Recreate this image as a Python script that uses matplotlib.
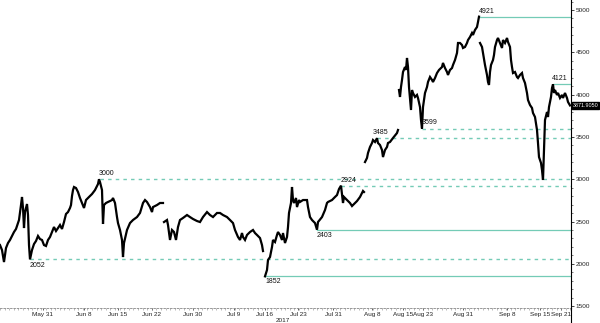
import numpy as np
import matplotlib
matplotlib.use("Agg")
import matplotlib.pyplot as plt
from matplotlib.ticker import MultipleLocator
from matplotlib.lines import Line2D

# ---- data (time index along the compressed axis, price in USD) ----
t_a = [0, 2, 4, 6, 8, 10, 12, 14, 16, 17, 19, 21, 22, 23, 24, 25, 27, 28, 29, 30, 32, 34, 36, 38, 40,
       42, 44, 46, 48, 50, 52, 54, 56, 58, 60, 62, 64, 66, 68, 70, 71, 72, 73, 74, 76, 78, 80, 82, 84,
       86, 89, 92, 95, 98, 99, 100, 102, 103, 104, 106, 108, 110, 112, 113, 115, 117, 118, 120, 122,
       123, 124, 127, 130, 133, 137, 140, 143, 145, 147, 150, 152, 153, 157, 160, 163]
p_a = [2222, 2163, 2021, 2187, 2246, 2282, 2329, 2376, 2412, 2447, 2518, 2695, 2790, 2660, 2423, 2612,
       2707, 2577, 2222, 2052, 2163, 2234, 2270, 2329, 2293, 2282, 2222, 2211, 2282, 2317, 2376, 2435,
       2388, 2423, 2459, 2412, 2494, 2589, 2612, 2660, 2695, 2801, 2872, 2908, 2896, 2849, 2778, 2719,
       2660, 2754, 2790, 2825, 2872, 2943, 3000, 2967, 2872, 2471, 2695, 2719, 2731, 2742, 2754, 2778,
       2719, 2553, 2482, 2400, 2282, 2080, 2246, 2400, 2482, 2518, 2553, 2601, 2719, 2754, 2731, 2671,
       2612, 2671, 2695, 2719, 2719]

t_b = [164, 167, 168, 170, 172, 174, 176, 178, 180, 183, 187, 190, 193, 197, 200, 203, 207, 210, 213,
       217, 220, 223, 227, 230, 233, 235, 238, 240, 242, 243, 245, 247, 250, 253, 255, 257, 260, 262, 263]
p_b = [2494, 2518, 2459, 2282, 2400, 2376, 2282, 2435, 2518, 2542, 2577, 2553, 2530, 2506, 2494, 2553,
       2612, 2577, 2553, 2601, 2601, 2577, 2553, 2518, 2482, 2400, 2317, 2282, 2364, 2317, 2282, 2341,
       2376, 2400, 2364, 2341, 2305, 2222, 2151]

t_c = [265, 267, 268, 270, 272, 273, 275, 277, 278, 280, 282, 283, 285, 287, 288, 289, 291, 292, 293,
       294, 296, 297, 299, 300, 303, 307, 308, 310, 312, 315, 317, 318, 322, 325, 327, 328, 332, 335,
       337, 339, 341, 343, 344, 347, 350, 352, 353, 357, 360, 363, 364]
p_c = [1852, 1927, 2045, 2080, 2199, 2282, 2258, 2341, 2376, 2341, 2282, 2364, 2246, 2317, 2435, 2601,
       2719, 2908, 2754, 2719, 2778, 2671, 2754, 2731, 2754, 2754, 2671, 2553, 2518, 2482, 2403, 2494,
       2553, 2636, 2719, 2731, 2754, 2790, 2813, 2884, 2924, 2719, 2790, 2754, 2719, 2683, 2695, 2742,
       2790, 2861, 2849]

t_d = [365, 367, 368, 370, 372, 373, 375, 377, 378, 380, 382, 383, 385, 387, 388, 390, 393, 397, 398]
p_d = [3203, 3251, 3310, 3381, 3428, 3463, 3440, 3485, 3428, 3404, 3345, 3262, 3345, 3381, 3428, 3440,
       3487, 3546, 3582]

t_e = [399, 400, 401, 402, 403, 405, 406, 407, 408, 409, 411, 412, 413, 415, 417, 418, 420, 421, 422,
       423, 425, 427, 428, 430, 432, 433, 435, 437, 439, 442, 443, 445, 447, 448, 450, 452, 453, 455,
       457, 458, 460, 462, 463, 465, 467, 468, 470, 472, 473, 475, 477, 478, 479]
p_e = [4054, 3972, 4090, 4173, 4267, 4326, 4291, 4433, 4326, 4090, 3818, 4054, 4019, 3972, 3996, 3960,
       3853, 3700, 3599, 3853, 4019, 4090, 4149, 4208, 4173, 4149, 4196, 4255, 4291, 4326, 4374, 4314,
       4267, 4232, 4291, 4314, 4350, 4409, 4492, 4610, 4610, 4586, 4551, 4563, 4610, 4645, 4681, 4728,
       4705, 4764, 4799, 4858, 4921]

t_f = [480, 482, 483, 485, 487, 488, 489, 490, 491, 493, 494, 495, 497, 498, 500, 502, 503, 505, 507,
       508, 510, 511, 512, 513, 515, 517, 518, 520, 522, 523, 525, 527, 528, 530, 532, 533, 535, 537,
       538, 539, 541, 542, 543, 544, 545, 547, 548, 549, 551, 552, 553, 554, 555, 557, 558, 560, 562,
       563, 565, 567, 568, 570]
p_f = [4610, 4563, 4492, 4350, 4232, 4149, 4114, 4267, 4350, 4409, 4468, 4563, 4645, 4669, 4610, 4551,
       4645, 4610, 4669, 4622, 4563, 4409, 4326, 4255, 4267, 4208, 4196, 4232, 4255, 4196, 4137, 4019,
       3936, 3877, 3842, 3783, 3735, 3582, 3428, 3262, 3192, 3109, 2991, 3345, 3700, 3794, 3735, 3853,
       3972, 4078, 4121, 4019, 4054, 3996, 4019, 3960, 3996, 3960, 4019, 3960, 3913, 3872]

segments_t = [t_a, t_b, t_c, t_d, t_e, t_f]
segments_p = [p_a, p_b, p_c, p_d, p_e, p_f]

level_values = [2052, 3000, 2924, 3485, 3599, 1852, 2403, 4921, 4121]
level_start = [30, 100, 341, 377, 422, 265, 317, 479, 553]
level_dashed = [True, True, True, True, True, False, False, False, False]

last_price = 3871.9050

tick_pos = [43, 84, 118, 152, 193, 234, 265, 298, 333, 372, 403, 423, 463, 507, 540, 561]
tick_labels = ["May 31", "Jun 8", "Jun 15", "Jun 22", "Jun 30", "Jul 9", "Jul 16", "Jul 23",
               "Jul 31", "Aug 8", "Aug 15", "Aug 23", "Aug 31", "Sep 8", "Sep 15", "Sep 21"]
y_ticks = [1500, 2000, 2500, 3000, 3500, 4000, 4500, 5000]

# ---- figure ----
plt.rcParams['font.family'] = ['Liberation Sans', 'DejaVu Sans']
W, H = 600, 323
fig = plt.figure(figsize=(W / 100, H / 100), dpi=100)
ax = fig.add_axes([0, 1 - 308 / H, 571 / W, 308 / H])

teal = '#74cbb6'
xmax = 571
for v, s, d in zip(level_values, level_start, level_dashed):
    if d:
        ax.plot([s, xmax], [v, v], color=teal, lw=1.0, ls=(0, (2.5, 3)), zorder=1)
    else:
        ax.plot([s, xmax], [v, v], color=teal, lw=0.9, ls='-', zorder=1)

for tt, pp in zip(segments_t, segments_p):
    ax.plot(tt, pp, color='black', lw=1.6, zorder=3, solid_joinstyle='miter')

fs = 4.6
# level annotations
ann = [(30, 2052, 'top'), (99, 3000, 'bottom'), (265, 1852, 'top'), (317, 2403, 'top'),
       (341, 2924, 'bottom'), (373, 3485, 'bottom'), (422, 3599, 'bottom'),
       (479, 4921, 'bottom'), (552, 4121, 'bottom')]
for x, v, va in ann:
    off = -25 if va == 'top' else 25
    ax.text(x, v + off, f"{v}", fontsize=fs + 0.4, ha='left', va=va, color='#111111', zorder=4)

ax.set_xlim(0, xmax)
ax.set_ylim(1478, 5118)

for sp in ['left', 'top']:
    ax.spines[sp].set_visible(False)
ax.spines['right'].set_color('black')
ax.spines['right'].set_linewidth(0.8)
ax.spines['bottom'].set_color('#888888')
ax.spines['bottom'].set_linewidth(0.6)
ax.spines['bottom'].set_linestyle((0, (2, 2)))

ax.yaxis.tick_right()
ax.set_yticks(y_ticks)
ax.set_yticklabels([str(v) for v in y_ticks])
ax.yaxis.set_minor_locator(MultipleLocator(100))
ax.tick_params(axis='y', which='major', length=2.5, width=0.6, labelsize=fs, pad=1, colors='#222222')
ax.tick_params(axis='y', which='minor', length=1.3, width=0.5, colors='#444444')

ax.set_xticks(tick_pos)
ax.set_xticklabels(tick_labels)
ax.xaxis.set_minor_locator(MultipleLocator(4.6))
ax.tick_params(axis='x', which='major', length=1.5, width=0.5, labelsize=fs, pad=1.5, colors='#222222')
ax.tick_params(axis='x', which='minor', length=1.2, width=0.4, colors='#888888')

# last price tag
ax.text(1.003, last_price, f"{last_price:.4f}", transform=ax.get_yaxis_transform(),
        fontsize=3.9, color='white', ha='left', va='center', zorder=5,
        bbox=dict(boxstyle='square,pad=0.12', fc='black', ec='black'))

fig.text(283 / W, 1 - 320 / H, "2017", fontsize=fs, ha='center', va='center', color='#222222')
fig.add_artist(Line2D([571 / W, 571 / W], [1 - 308 / H, 1 - 322 / H], transform=fig.transFigure,
                      color='black', lw=0.8))

fig.savefig('out.png', dpi=100)
